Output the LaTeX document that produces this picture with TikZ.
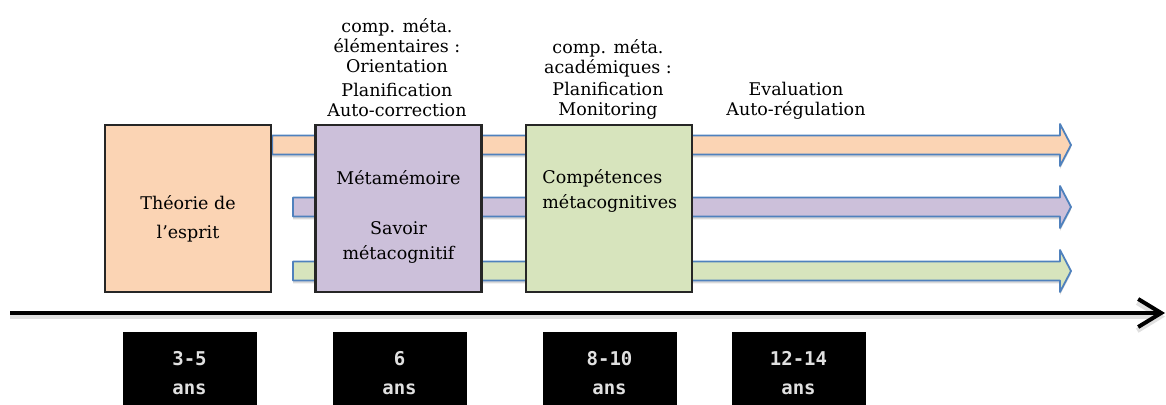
\documentclass[tikz,border=0pt]{standalone}
\usepackage{fontspec}
\setmainfont{DejaVu Serif}
\newfontfamily\agefont{DejaVu Sans Mono}
\usetikzlibrary{calc,arrows.meta,shadows,backgrounds}

\definecolor{peau}{HTML}{FBD4B4}
\definecolor{lilas}{HTML}{CCC0DA}
\definecolor{tilleul}{HTML}{D7E4BD}
\definecolor{contour}{HTML}{4F81BD}

\tikzset{
  stade/.style={draw=black!85, line width=1.1pt, minimum width=83pt, minimum height=83.5pt, inner sep=0pt},
  boxtext/.style={font=\fontsize{8.75}{14.5}\selectfont, align=center, inner sep=0pt},
  toptext/.style={font=\fontsize{8.75}{10}\selectfont, align=center, inner sep=0pt},
  agebox/.style={fill=black, text=white!88!black, minimum width=67pt, minimum height=41.5pt, inner sep=0pt,
    font=\agefont\bfseries\fontsize{9.5}{14.5}\selectfont, align=center},
  band/.style={draw=contour, line width=0.9pt, line join=round,
    drop shadow={shadow xshift=0pt, shadow yshift=-1.5pt, opacity=0.3}},
  timeline/.style={line width=2pt, -{Straight Barb[length=11.5pt,width=14pt]},
    preaction={draw=black!12, line width=2.5pt, transform canvas={yshift=-1.8pt}}}
}

% flat arrow: fill, start, tip
\newcommand{\flatarrow}[3]{%
  \draw[band, fill=#1] ($(#2)+(0,-9.5)$) -- ($(#3)+(-11,-9.5)$) -- ($(#3)+(-11,-21)$) -- (#3)
    -- ($(#3)+(-11,21)$) -- ($(#3)+(-11,9.5)$) -- ($(#2)+(0,9.5)$) -- cycle;}

\begin{document}
\begin{tikzpicture}[x=0.5pt, y=-0.5pt]
  \useasboundingbox (0,0) rectangle (1166,405);

  % stages
  \node[stade, fill=peau] (theorie) at (188,208.5) {};
  \node[stade, fill=lilas] (memoire) at (398.5,208.5) {};
  \node[stade, fill=tilleul] (competences) at (609,208.5) {};

  \node[boxtext] (theorie-t) at (188,218.5) {Théorie de\\l’esprit};
  \node[boxtext, font=\fontsize{8.75}{12.5}\selectfont] (memoire-t) at (398.5,217)
    {Métamémoire\\[12.5pt]Savoir\\métacognitif};
  \node[boxtext, font=\fontsize{8.75}{12.5}\selectfont, align=left, anchor=west] (competences-t)
    at (542,190.5) {Compétences\\métacognitives};

  % texts above
  \node[toptext] (elem) at (397,68)
    {comp. méta.\\élémentaires :\\Orientation\\[2pt]Planification\\Auto-correction};
  \node[toptext] (acad) at (608,79)
    {comp. méta.\\académiques :\\[1pt]Planification\\Monitoring};
  \node[toptext] (eval) at (796,100.5) {Evaluation\\Auto-régulation};

  % arrows behind the stages
  \coordinate (o-end) at (1071,145);
  \coordinate (o-start) at (theorie.east |- o-end);
  \coordinate (p-start) at (293,207);
  \coordinate (p-end) at (1071,207);
  \coordinate (g-start) at (293,271);
  \coordinate (g-end) at (1071,271);
  \begin{scope}[on background layer]
    \flatarrow{peau}{o-start}{o-end}
    \flatarrow{lilas}{p-start}{p-end}
    \flatarrow{tilleul}{g-start}{g-end}
  \end{scope}

  % time axis
  \coordinate (t0) at (10,313);
  \coordinate (t1) at (1165,313);
  \draw[timeline] (t0) -- (t1);

  \node[agebox] (a1) at (189.5,373.5) {3-5\\ans};
  \node[agebox] (a2) at (399.5,373.5) {6\\ans};
  \node[agebox] (a3) at (609.5,373.5) {8-10\\ans};
  \node[agebox] (a4) at (798.5,373.5) {12-14\\ans};
\end{tikzpicture}
\end{document}
